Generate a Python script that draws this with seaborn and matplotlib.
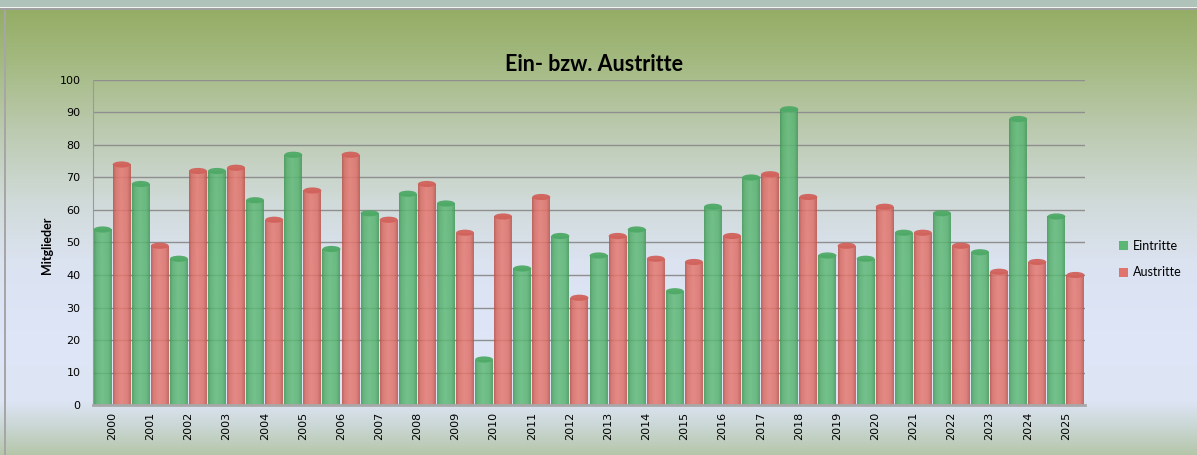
import numpy as np
import pandas as pd
import seaborn as sns
import matplotlib.pyplot as plt
from matplotlib.colors import LinearSegmentedColormap, to_rgb
from matplotlib.patches import Ellipse, Patch, Rectangle

# Daten
jahre = ['2000', '2001', '2002', '2003', '2004', '2005', '2006', '2007', '2008',
         '2009', '2010', '2011', '2012', '2013', '2014', '2015', '2016', '2017',
         '2018', '2019', '2020', '2021', '2022', '2023', '2024', '2025']
eintritte = [54, 68, 45, 72, 63, 77, 48, 59, 65, 62, 14, 42, 52, 46, 54, 35, 61,
             70, 91, 46, 45, 53, 59, 47, 88, 58]
austritte = [74, 49, 72, 73, 57, 66, 77, 57, 68, 53, 58, 64, 33, 52, 45, 44, 52,
             71, 64, 49, 61, 53, 49, 41, 44, 40]
serien = ['Eintritte', 'Austritte']

df = pd.DataFrame({
    'Jahr': jahre * 2,
    'Serie': ['Eintritte'] * len(jahre) + ['Austritte'] * len(jahre),
    'Wert': eintritte + austritte,
})

gruen = '#5cb774'
rot = '#e0736b'
W, H = 1197, 455

fig = plt.figure(figsize=(W / 100, H / 100), dpi=100)

# Hintergrund-Verlauf
stops_y = [0, 9, 60, 130, 200, 260, 330, 400, 425, 455]
stops_c = ['#94ad65', '#94ad65', '#a3b980', '#bccab0', '#d0dad8', '#dbe2f0',
           '#dee5f7', '#dde5f5', '#cbd7d5', '#b4c6a8']
rows = np.arange(H)
rgb = np.array([to_rgb(c) for c in stops_c])
grad = np.stack([np.interp(rows, stops_y, rgb[:, i]) for i in range(3)], axis=-1)
bg = fig.add_axes([0, 0, 1, 1], zorder=-10)
bg.imshow(grad[:, None, :], aspect='auto', extent=[0, 1, 0, 1])
bg.set_xlim(0, 1)
bg.set_ylim(0, 1)
bg.axis('off')
# oberer Streifen und Rahmen
bg.add_patch(Rectangle((0, 1 - 7 / H), 1, 7 / H, color='#b0c3bb', lw=0))
bg.add_patch(Rectangle((0, 1 - 8 / H), 1, 1.2 / H, color='#f4f4f4', lw=0))
bg.add_patch(Rectangle((0, 1 - 9.5 / H), 1, 1.5 / H, color='#a0a0a0', lw=0))
bg.add_patch(Rectangle((4 / W, 0), 1.5 / W, 1 - 9.5 / H, color='#a6a6a6', lw=0))

ax = fig.add_axes([93 / W, 1 - 405 / H, 992 / W, 325 / H])
ax.patch.set_alpha(0)

sns.barplot(data=df, x='Jahr', y='Wert', hue='Serie', hue_order=serien,
            palette=[gruen, rot], width=1.0, gap=0.06, ax=ax, legend=False,
            errorbar=None, zorder=2)

# Zylinder-Schattierung
cmaps = {
    'Eintritte': LinearSegmentedColormap.from_list(
        'g', [(0, '#3f9656'), (0.15, '#55ae6c'), (0.45, '#62bb7a'),
              (0.8, '#59b371'), (1, '#42995a')]),
    'Austritte': LinearSegmentedColormap.from_list(
        'r', [(0, '#b8514b'), (0.15, '#d96c64'), (0.45, '#e67b73'),
              (0.8, '#de716a'), (1, '#bb544e')]),
}
tops = {'Eintritte': '#4ea966', 'Austritte': '#d1625b'}
row = np.linspace(0, 1, 64)[None, :]
for cont, s in zip(ax.containers, serien):
    for p in cont:
        x0, w, h = p.get_x(), p.get_width(), p.get_height()
        p.set_facecolor('none')
        p.set_edgecolor('none')
        im = ax.imshow(row, extent=[x0, x0 + w, 0, h], aspect='auto',
                       cmap=cmaps[s], alpha=0.86, zorder=2)
        im.set_clip_path(p)
        ax.add_patch(Ellipse((x0 + w / 2, h), w, 1.9, facecolor=tops[s],
                             edgecolor='none', alpha=0.95, zorder=3))

ax.set_xlim(-0.5, len(jahre) - 0.5)
ax.set_ylim(0, 100)
ax.set_yticks(range(0, 101, 10))
ax.yaxis.grid(True, color='#8f8f8f', lw=1, zorder=0)
ax.set_axisbelow(True)
ax.tick_params(axis='both', length=0, labelsize=8, colors='black')
ax.tick_params(axis='y', pad=9)
ax.tick_params(axis='x', pad=5, rotation=90)
ax.set_xlabel('')
ax.set_ylabel('')
for sp in ['top', 'right']:
    ax.spines[sp].set_visible(False)
ax.spines['left'].set_color('#9a9a9a')
ax.spines['bottom'].set_color('#a8a8a8')
ax.spines['bottom'].set_linewidth(2)

fig.text(594 / W, 1 - 65 / H, 'Ein- bzw. Austritte', ha='center', va='center',
         fontsize=15.5, fontweight='bold', family='Lato')
fig.text(47 / W, 1 - 245 / H, 'Mitglieder', ha='center', va='center',
         rotation=90, fontsize=9, fontweight='bold', family='Lato')

handles = [Patch(facecolor=gruen, edgecolor='none'),
           Patch(facecolor=rot, edgecolor='none')]
fig.legend(handles, serien, loc='center left', bbox_to_anchor=(1119 / W, 1 - 259 / H),
           frameon=False, handlelength=0.75, handleheight=0.75,
           handletextpad=0.35, labelspacing=1.2, borderpad=0, borderaxespad=0,
           prop={'family': 'Lato', 'size': 9})

fig.savefig('out.png', dpi=100)
